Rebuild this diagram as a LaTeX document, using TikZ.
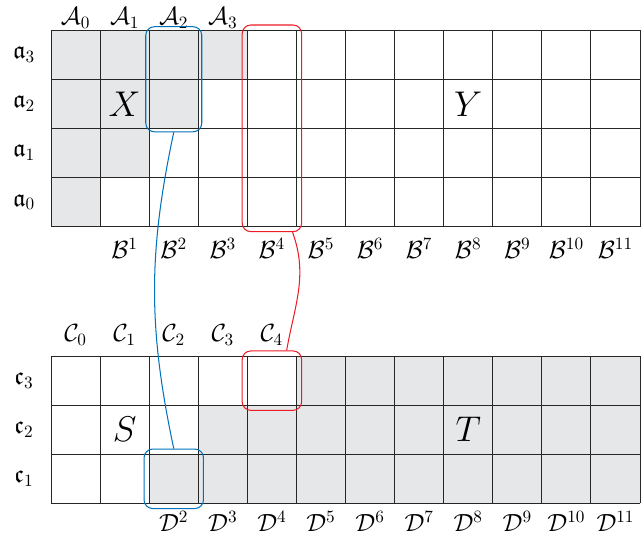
\documentclass[tikz,border=0pt]{standalone}
\usepackage{amsmath,amssymb}
\usetikzlibrary{fit}
\definecolor{cellgrey}{RGB}{230,231,233}
\definecolor{linkblue}{RGB}{0,114,188}
\definecolor{linkred}{RGB}{237,28,36}

\begin{document}
\begin{tikzpicture}[font=\Large,
 gridline/.style={draw=black!85, line width=0.6pt},
 hilite/.style={draw, rounded corners=5pt, inner sep=2pt, line width=0.6pt},
 bluebox/.style={hilite, draw=linkblue}, redbox/.style={hilite, draw=linkred},
 link/.style={line width=0.6pt}, big/.style={font=\huge}]
\useasboundingbox (-1.04,-0.83) rectangle (12.04,10.255);
% shaded cells
\fill[cellgrey] (0,5.64) -- (1,5.64) -- (1,6.64) -- (2,6.64) -- (2,7.64) -- (3,7.64)
  -- (3,8.64) -- (4,8.64) -- (4,9.64) -- (0,9.64) -- cycle;
\fill[cellgrey] (2,0) -- (12,0) -- (12,3) -- (5,3) -- (5,2) -- (3,2) -- (3,1) -- (2,1) -- cycle;
% the two grids
\foreach \x in {0,...,12} {
  \draw[gridline] (\x,5.64) -- (\x,9.64);
  \draw[gridline] (\x,0) -- (\x,3);}
\foreach \y in {0,...,4} \draw[gridline] (0,5.64+\y) -- (12,5.64+\y);
\foreach \y in {0,...,3} \draw[gridline] (0,\y) -- (12,\y);
% labels
\foreach \i in {0,...,3} \node[inner sep=0.5pt] (A\i) at (\i+0.5,9.89) {$\mathcal{A}_{\i}$};
\foreach \j in {0,...,3} \node (a\j) at (-0.55,6.14+\j) {$\mathfrak{a}_{\j}$};
\foreach \k in {1,...,11} \node (B\k) at (\k+0.5,5.2) {$\mathcal{B}^{\k}$};
\foreach \i in {0,...,4} \node (C\i) at (\i+0.5,3.43) {$\mathcal{C}_{\i}$};
\foreach \j in {1,2,3} \node (c\j) at (-0.55,\j-0.5) {$\mathfrak{c}_{\j}$};
\foreach \k in {2,...,11} \node[inner sep=0.5pt] (D\k) at (\k+0.5,-0.37) {$\mathcal{D}^{\k}$};
\node[big] (X) at (1.5,8.14) {$X$};
\node[big] (Y) at (8.5,8.14) {$Y$};
\node[big] (S) at (1.5,1.5) {$S$};
\node[big] (T) at (8.5,1.5) {$T$};
% highlighted blocks
\node[bluebox, fit={(2,7.64) (3,9.64)}] (xcol) {};
\node[redbox, inner sep=3pt, fit={(4,5.64) (5,9.64)}] (ycol) {};
\node[bluebox, inner sep=3pt, fit={(2,0) (3,1)}] (scell) {};
\node[redbox, inner sep=3pt, fit={(4,2) (5,3)}] (tcell) {};
\draw[link, linkblue] (xcol.south) to[out=-102,in=102] (scell.north);
\draw[link, linkred] ([xshift=0.42cm]ycol.south) to[out=-70,in=80] ([xshift=0.3cm]tcell.north);
\end{tikzpicture}
\end{document}
